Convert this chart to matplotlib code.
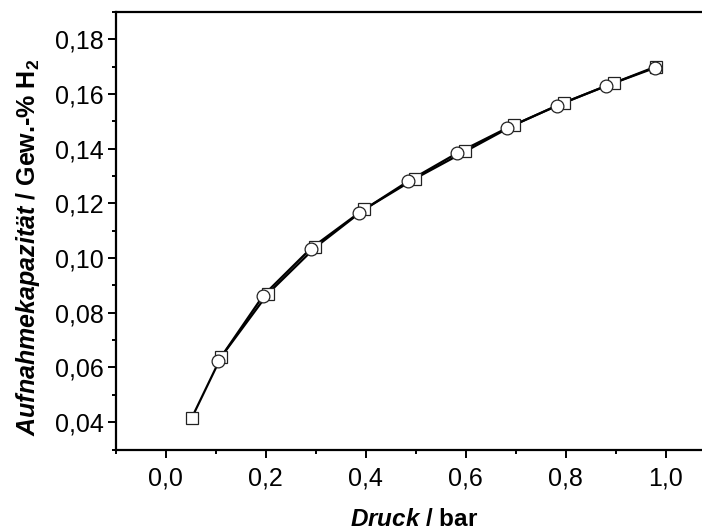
import matplotlib
matplotlib.use("Agg")
import matplotlib.pyplot as plt
from matplotlib.ticker import MultipleLocator, FixedLocator, FixedFormatter

plt.rcParams['font.family'] = ['Liberation Sans', 'DejaVu Sans']
plt.rcParams['mathtext.fontset'] = 'custom'
plt.rcParams['mathtext.rm'] = 'Liberation Sans'
plt.rcParams['mathtext.bf'] = 'Liberation Sans:bold'
plt.rcParams['mathtext.bfit'] = 'Liberation Sans:bold:italic'
plt.rcParams['mathtext.it'] = 'Liberation Sans:italic'

# Data
sq_x = [0.052, 0.111, 0.204, 0.299, 0.397, 0.499, 0.599, 0.697, 0.797, 0.897, 0.980]
sq_y = [0.0415, 0.0639, 0.0869, 0.1039, 0.1178, 0.1291, 0.1390, 0.1487, 0.1569, 0.1641, 0.1700]
ci_x = [0.105, 0.195, 0.290, 0.387, 0.485, 0.583, 0.682, 0.782, 0.881, 0.979]
ci_y = [0.0623, 0.0863, 0.1035, 0.1166, 0.1281, 0.1384, 0.1475, 0.1557, 0.1630, 0.1696]

xticks = [0.0, 0.2, 0.4, 0.6, 0.8, 1.0]
xticklabels = ["0,0", "0,2", "0,4", "0,6", "0,8", "1,0"]
yticks = [0.04, 0.06, 0.08, 0.10, 0.12, 0.14, 0.16, 0.18]
yticklabels = ["0,04", "0,06", "0,08", "0,10", "0,12", "0,14", "0,16", "0,18"]

W, H = 702, 529
fig = plt.figure(figsize=(W / 100, H / 100), dpi=100)
left, right, top, bottom = 115.7, 715.7, 12, 449.5
ax = fig.add_axes([left / W, (H - bottom) / H, (right - left) / W, (bottom - top) / H])

ax.plot(sq_x, sq_y, '-', color='black', lw=1.6, zorder=2)
ax.plot(ci_x, ci_y, '-', color='black', lw=1.6, zorder=2)
ax.plot(sq_x, sq_y, 's', ms=8.8, mfc='white', mec='#222222', mew=0.9, ls='none', zorder=3)
ax.plot(ci_x, ci_y, 'o', ms=9.2, mfc='white', mec='#222222', mew=0.9, ls='none', zorder=4)

ax.set_xlim(-0.1, 1.1)
ax.set_ylim(0.03, 0.19)

ax.xaxis.set_major_locator(FixedLocator(xticks))
ax.xaxis.set_major_formatter(FixedFormatter(xticklabels))
ax.yaxis.set_major_locator(FixedLocator(yticks))
ax.yaxis.set_major_formatter(FixedFormatter(yticklabels))
ax.xaxis.set_minor_locator(MultipleLocator(0.1))
ax.yaxis.set_minor_locator(MultipleLocator(0.01))

for s in ax.spines.values():
    s.set_linewidth(1.6)
ax.spines['right'].set_visible(False)

ax.tick_params(which='major', direction='out', length=5.5, width=1.4, labelsize=18, top=False, right=False)
ax.tick_params(axis='x', which='major', pad=6.5)
ax.tick_params(axis='y', which='major', pad=3.3)
ax.tick_params(which='minor', direction='out', length=3, width=1.4, top=False, right=False)

ax.set_xlabel(r'$\mathbfit{Druck}$ / bar', fontsize=17.5, fontweight='bold', va='baseline')
ax.xaxis.set_label_coords(0.4967, (bottom - 525.5) / (bottom - top))
ax.set_ylabel(r'$\mathbfit{Aufnahmekapazität}$ / Gew.-% H$_\mathbf{2}$', fontsize=18,
              fontweight='bold', va='center')
ax.yaxis.set_label_coords((28.5 - left) / (right - left), (bottom - 247.5) / (bottom - top))

fig.savefig('out.png', dpi=100)
